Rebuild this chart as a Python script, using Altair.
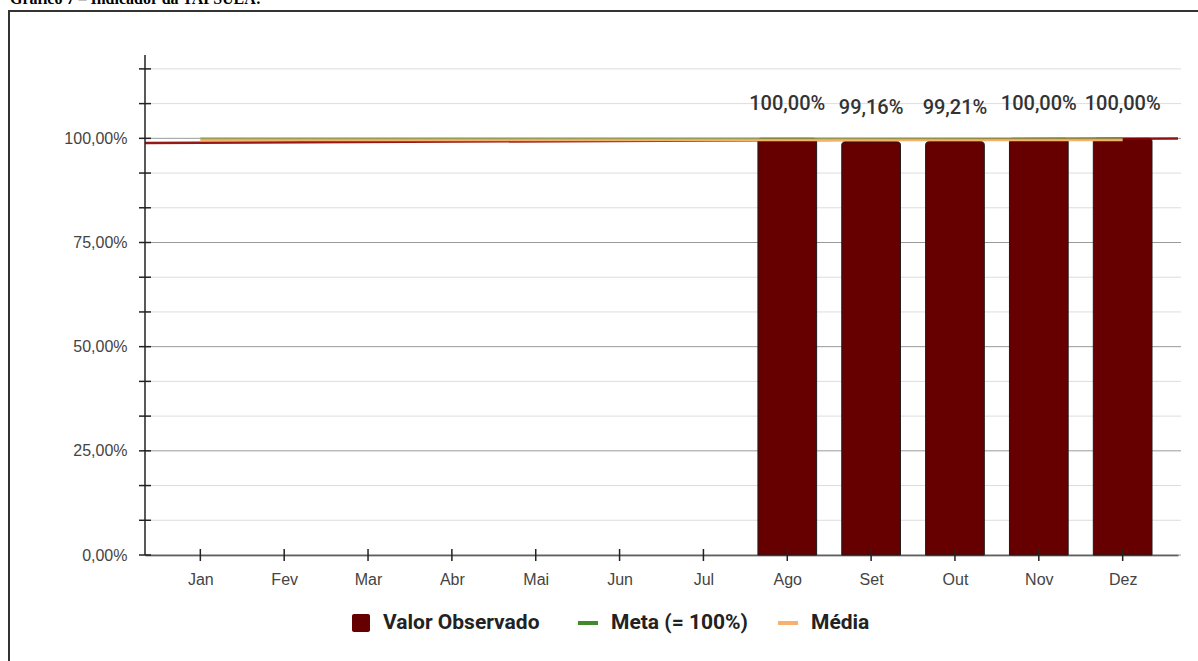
import altair as alt
import pandas as pd

months = ["Jan", "Fev", "Mar", "Abr", "Mai", "Jun", "Jul", "Ago", "Set", "Out", "Nov", "Dez"]
observed = [None, None, None, None, None, None, None, 100.00, 99.16, 99.21, 100.00, 100.00]
meta = [100.0] * 12
media = [99.674] * 12
trend_x = [0.34, 12.66]
trend_y = [98.9, 99.95]
y_ticks = [0, 25, 50, 75, 100]
grid_minor = [25 / 3 * i for i in range(15)]
legend_labels = ["Valor Observado", "Meta (= 100%)", "Média"]
legend_colors = ["#660000", "#3f8a2a", "#f6b26b"]
title_text = "Gráfico 7 – Indicador da TAPSUEA:"

XDOM = [0.34, 12.66]
YDOM = [0, 120]
W, H = 1033, 500

df = pd.DataFrame({"m": list(range(1, 13)), "mes": months, "obs": observed,
                   "meta": meta, "media": media})
bars_df = df.dropna(subset=["obs"])
grid_df = pd.DataFrame({"g": grid_minor})
grid_df["major"] = [abs(v / 25 - round(v / 25)) < 1e-6 for v in grid_minor]
trend_df = pd.DataFrame({"x": trend_x, "y": trend_y})

xs = alt.Scale(domain=XDOM, nice=False, zero=False)
ys = alt.Scale(domain=YDOM, nice=False)

pct = "replace(format(datum.value, '.2f'), '.', ',') + '%'"
month_expr = "['" + "','".join(months) + "'][datum.value - 1]"

XAX = alt.Axis(values=list(range(1, 13)), title=None, labelExpr=month_expr,
               grid=False, ticks=False, domain=True, domainColor="#222222", domainWidth=1.5,
               labelFont="Liberation Sans", labelFontSize=16, labelColor="#444444",
               labelPadding=16)
YAX = alt.Axis(values=y_ticks, labelExpr=pct, title=None, grid=False, ticks=False,
               domain=False, labelFont="Liberation Sans", labelFontSize=16,
               labelColor="#444444", labelPadding=18)


def X(f):
    return alt.X(f, scale=xs, axis=XAX)


def Y(f):
    return alt.Y(f, scale=ys, axis=YAX)


grid = alt.Chart(grid_df).mark_rule(strokeWidth=1).encode(
    y=Y("g:Q"),
    x=alt.value(0), x2=alt.value(W + 3),
    color=alt.condition("datum.major", alt.value("#9a9a9a"), alt.value("#dddddd")),
)

bars = alt.Chart(bars_df).transform_calculate(
    x0="datum.m - 0.35", x1="datum.m + 0.35"
).mark_rect(color="#660000", stroke="#1a1a1a", strokeWidth=1,
            cornerRadiusTopLeft=3, cornerRadiusTopRight=3).encode(
    x=X("x0:Q"), x2="x1:Q",
    y=Y("obs:Q"), y2=alt.datum(0),
)

trend_line = alt.Chart(trend_df).mark_line(color="#8b0000", strokeWidth=2.5, opacity=0.9).encode(
    x=X("x:Q"), y=Y("y:Q"))

media_line = alt.Chart(df).mark_line(color="#f6b26b", strokeWidth=3).encode(
    x=X("m:Q"), y=Y("media:Q"))

meta_line = alt.Chart(df).mark_line(color="#3f8a2a", strokeWidth=2, opacity=0.45).encode(
    x=X("m:Q"), y=Y("meta:Q"))

labels = alt.Chart(bars_df).transform_calculate(
    lab="replace(format(datum.obs, '.2f'), '.', ',') + '%'"
).mark_text(font="Roboto", fontSize=20, fontWeight=500, color="#333333",
            baseline="middle", dy=-34).encode(
    x=X("m:Q"), y=Y("obs:Q"), text="lab:N")

yaxis_line = alt.Chart(df.head(1)).mark_rule(color="#222222", strokeWidth=1.5).encode(
    x=alt.value(0), y=alt.value(0), y2=alt.value(H))
yticks = alt.Chart(grid_df).mark_rule(color="#222222", strokeWidth=1.5).encode(
    y=Y("g:Q"), x=alt.value(-6), x2=alt.value(6))

xticks = alt.Chart(df).mark_rule(color="#222222", strokeWidth=1.5).encode(
    x=X("m:Q"), y=alt.value(H - 6), y2=alt.value(H + 6))

# legend
LY = H + 68
leg_x_sym = [207, 433, 633]
leg_x_txt = [238, 466, 666]
one = pd.DataFrame({"a": [0]})
legend_layers = [
    alt.Chart(one).mark_rect(cornerRadius=2, color=legend_colors[0]).encode(
        x=alt.value(leg_x_sym[0]), x2=alt.value(leg_x_sym[0] + 18),
        y=alt.value(LY - 9), y2=alt.value(LY + 9))
]
for i in (1, 2):
    legend_layers.append(
        alt.Chart(one).mark_rect(color=legend_colors[i]).encode(
            x=alt.value(leg_x_sym[i]), x2=alt.value(leg_x_sym[i] + 20),
            y=alt.value(LY - 2), y2=alt.value(LY + 2)))
for i in range(3):
    legend_layers.append(
        alt.Chart(pd.DataFrame({"t": [legend_labels[i]]})).mark_text(
            font="Roboto", fontSize=21, fontWeight="bold", color="#222222",
            align="left", baseline="middle").encode(
            x=alt.value(leg_x_txt[i]), y=alt.value(LY), text="t:N"))

frame = alt.Chart(one).mark_rect(fill=None, stroke="#333333", strokeWidth=2).encode(
    x=alt.value(-136), x2=alt.value(W + 100), y=alt.value(-44), y2=alt.value(H + 200))

title = alt.Chart(pd.DataFrame({"t": [title_text]})).mark_text(
    font="Liberation Serif", fontSize=16, fontWeight="bold", color="#000000",
    align="left", baseline="alphabetic").encode(
    x=alt.value(-135), y=alt.value(-51), text="t:N")

chart = alt.layer(grid, bars, trend_line, media_line, meta_line, labels,
                  yaxis_line, yticks, xticks, *legend_layers, frame, title).properties(
    width=W, height=H,
    autosize=alt.AutoSizeParams(type="none"),
    padding={"left": 145, "top": 55, "right": 20, "bottom": 106},
).configure_view(stroke=None)

chart.save("out.html", embed_options={"renderer": "svg", "actions": False})
